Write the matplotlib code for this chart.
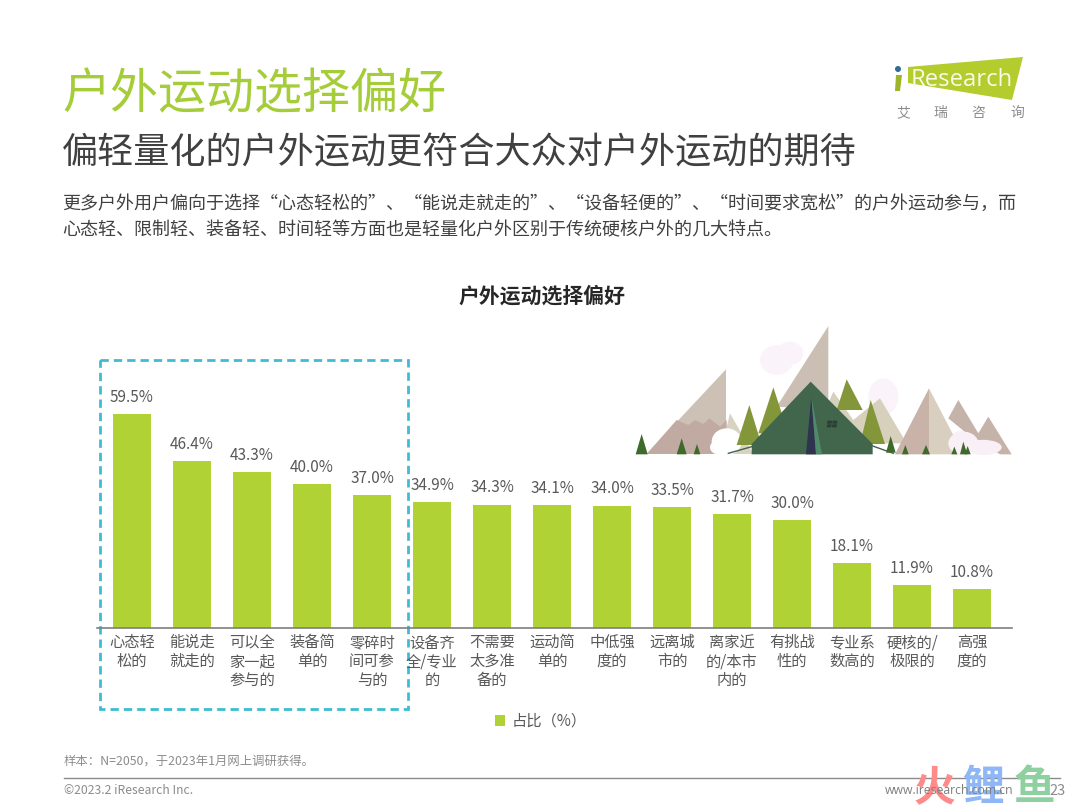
import matplotlib
matplotlib.use('Agg')
import matplotlib.pyplot as plt
from matplotlib.patches import Polygon, Ellipse, Rectangle

plt.rcParams['font.family'] = ['Noto Sans CJK SC', 'DejaVu Sans']

# Data
categories = ['心态轻\n松的', '能说走\n就走的', '可以全\n家一起\n参与的', '装备简\n单的', '零碎时\n间可参\n与的',
              '设备齐\n全/专业\n的', '不需要\n太多准\n备的', '运动简\n单的', '中低强\n度的', '远离城\n市的',
              '离家近\n的/本市\n内的', '有挑战\n性的', '专业系\n数高的', '硬核的/\n极限的', '高强\n度的']
values = [59.5, 46.4, 43.3, 40.0, 37.0, 34.9, 34.3, 34.1, 34.0, 33.5, 31.7, 30.0, 18.1, 11.9, 10.8]

title = '户外运动选择偏好'
subtitle = '偏轻量化的户外运动更符合大众对户外运动的期待'
body1 = '更多户外用户偏向于选择“心态轻松的”、“能说走就走的”、“设备轻便的”、“时间要求宽松”的户外运动参与，而'
body2 = '心态轻、限制轻、装备轻、时间轻等方面也是轻量化户外区别于传统硬核户外的几大特点。'
chart_title = '户外运动选择偏好'
legend_label = '占比（%）'
note = '样本：N=2050，于2023年1月网上调研获得。'
copyright_text = '©2023.2 iResearch Inc.'
site = 'www.iresearch.com.cn'
page = '23'

W, H = 1080, 810
GREEN = '#b1d235'
GREY = '#595959'
fig = plt.figure(figsize=(10.8, 8.1), dpi=100, facecolor='white')

# overlay in pixel coordinates for page furniture
bg = fig.add_axes([0, 0, 1, 1])
bg.set_xlim(0, W)
bg.set_ylim(H, 0)
bg.axis('off')

# chart axes: baseline at y=628, 3.6 px per percent, bars 60 px apart
left, right, base, top = 97, 1012, 628, 340
ax = fig.add_axes([left / W, 1 - base / H, (right - left) / W, (base - top) / H])
ax.patch.set_alpha(0)
ax.set_xlim(-35 / 60, (right - 132) / 60)
ax.set_ylim(0, (base - top) / 3.6)
x = list(range(len(values)))
bars = ax.bar(x, values, width=38 / 60, color=GREEN, label=legend_label)
for xi, v in zip(x, values):
    ax.text(xi, v + 2.3, f'{v:.1f}%', ha='center', va='bottom', fontsize=11, color=GREY)
ax.set_xticks(x)
ax.set_xticklabels(categories, fontsize=11, color=GREY, linespacing=1.14)
ax.tick_params(axis='x', length=0, pad=4.5)
ax.set_yticks([])
for s in ['top', 'left', 'right']:
    ax.spines[s].set_visible(False)
ax.spines['bottom'].set_color('#7f7f7f')
ax.spines['bottom'].set_linewidth(1.2)
fig.legend(handles=[bars], labels=[legend_label], loc='center', bbox_to_anchor=(541 / W, 1 - 721 / H),
           frameon=False, fontsize=11, labelcolor=GREY, handlelength=0.62, handleheight=0.7,
           handletextpad=0.45)

# headings
bg.text(62, 94, title, fontsize=34.6, color='#a5cd39', va='center', ha='left', weight='light')
bg.text(62, 153, subtitle, fontsize=26, color='#404040', va='center', ha='left')
bg.text(62, 204, body1, fontsize=13, color='#404040', va='center', ha='left')
bg.text(62, 230, body2, fontsize=13, color='#404040', va='center', ha='left')
bg.text(542, 296, chart_title, fontsize=15, color='#262626', va='center', ha='center', weight='bold')

# dashed highlight box
bg.add_patch(Rectangle((100, 360), 308, 349, fill=False, ec='#3fbcd4', lw=2, ls=(0, (3, 1.8))))


# illustration, points taken from a 3x crop starting at (620, 310)
def poly(pts, color, z=1):
    bg.add_patch(Polygon([(620 + a / 3, 310 + b / 3) for a, b in pts], closed=True, fc=color, ec='none', zorder=z))


def blob(cx, cy, w, h, color, z=1):
    bg.add_patch(Ellipse((620 + cx / 3, 310 + cy / 3), w / 3, h / 3, fc=color, ec='none', zorder=z))


for c in [(470, 150, 100, 90), (510, 130, 80, 70), (790, 260, 90, 110), (1040, 395, 120, 70), (1090, 415, 100, 40)]:
    blob(*c, '#fbf3fa')
poly([(80, 432), (318, 178), (318, 432)], '#cdc1b6')
poly([(80, 432), (170, 330), (205, 345), (225, 330), (250, 342), (268, 325), (300, 350), (320, 330), (320, 432)], '#c1aaa2', 2)
poly([(300, 432), (330, 310), (400, 432)], '#d8d3c0')
poly([(470, 290), (625, 48), (625, 300)], '#cbbfb3')
poly([(620, 290), (640, 245), (700, 330), (780, 265), (860, 400), (620, 400)], '#d6d0bd')
poly([(985, 325), (1015, 270), (1075, 370), (1105, 320), (1175, 433), (1140, 433), (1040, 370)], '#c5b3aa', 1)
poly([(825, 433), (927, 235), (927, 433)], '#c9b2a8', 2)
poly([(927, 235), (1030, 433), (927, 433)], '#d9cfc0', 2)
for c in [(320, 395, 90, 80), (300, 412, 60, 45)]:
    blob(*c, '#ffffff', 3)
for c in [(1030, 400, 90, 70), (1090, 412, 110, 45)]:
    blob(*c, '#f9eff7', 3)
for t in [(350, 405, 388, 285, 425), (415, 370, 460, 232, 505), (650, 300, 680, 208, 728),
          (720, 402, 752, 270, 795)]:
    poly([(t[0], t[1]), (t[2], t[3]), (t[4], t[1])], '#84963a', 4)
poly([(395, 433), (395, 402), (572, 215), (758, 402), (758, 433)], '#41664c', 5)
poly([(558, 433), (574, 260), (588, 433)], '#2f3350', 6)
poly([(574, 260), (606, 433), (588, 433)], '#4f8a6a', 6)
poly([(622, 332), (636, 332), (635, 341), (621, 341)], '#2c3d33', 6)
poly([(638, 332), (652, 332), (651, 341), (637, 341)], '#2c3d33', 6)
poly([(622, 343), (635, 343), (634, 352), (620, 352)], '#2c3d33', 6)
poly([(637, 343), (651, 343), (650, 352), (636, 352)], '#2c3d33', 6)
for t in [(47, 433, 65, 372, 83), (170, 433, 185, 385, 200), (221, 433, 231, 402, 241), (798, 428, 812, 378, 827),
          (846, 433, 856, 405, 866), (906, 433, 918, 405, 930), (994, 433, 1003, 410, 1012),
          (1020, 433, 1030, 395, 1042), (1034, 433, 1043, 408, 1052)]:
    poly([(t[0], t[1]), (t[2], t[3]), (t[4], t[1])], '#3e6a2c', 7)
bg.plot([620 + 325 / 3, 620 + 395 / 3], [310 + 430 / 3, 310 + 410 / 3], color='#47604c', lw=1, zorder=5)
bg.plot([620 + 758 / 3, 620 + 820 / 3], [310 + 408 / 3, 310 + 430 / 3], color='#47604c', lw=1, zorder=5)

# logo
bg.add_patch(Polygon([(908, 67), (1023, 57), (1012, 100), (908, 83)], closed=True, fc='#b4cc2e', ec='none'))
bg.add_patch(Ellipse((898, 69), 6, 6, fc='#2f6f96', ec='none'))
bg.add_patch(Polygon([(896, 75), (902, 75), (900, 91), (895, 91)], closed=True, fc='#9db52a', ec='none'))
bg.text(911, 80, 'Research', fontsize=17.2, color='#f8fbe6', va='center', ha='left', family='Open Sans')
for lx, ch in zip([903, 940, 978, 1017], '艾瑞咨询'):
    bg.text(lx, 113, ch, fontsize=10, color='#8c8c8c', va='center', ha='center')

# footer
bg.text(64, 761, note, fontsize=8.9, color='#8c8c8c', va='center', ha='left')
bg.plot([64, 1060], [778, 778], color='#8a8a8a', lw=1, zorder=2)
bg.text(64, 790, copyright_text, fontsize=8.8, color='#8c8c8c', va='center', ha='left')

# watermark
for lx, ch, col in [(934, '火', '#ff8a8a'), (983, '鲤', '#8fb6f5'), (1034, '鱼', '#8fd0a0')]:
    bg.text(lx, 788, ch, fontsize=30, weight='bold', color=col, va='center', ha='center', zorder=3)
bg.text(949, 790, site, fontsize=8.8, color='#7f7f7f', va='center', ha='center', family='Open Sans', zorder=4)
bg.text(1066, 791, page, fontsize=10.5, color='#8c8c8c', va='center', ha='right', zorder=4)

fig.savefig('out.png', dpi=100)
